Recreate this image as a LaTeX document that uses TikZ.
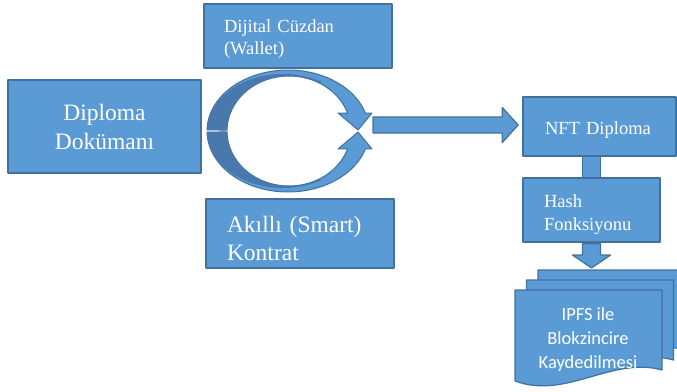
\documentclass[tikz,border=0pt]{standalone}
\usepackage{fontspec}
\setmainfont{Liberation Serif}
\newfontfamily\calibrifont{Carlito}
\usetikzlibrary{calc}
\definecolor{boxfill}{HTML}{5B9BD5}
\definecolor{boxline}{HTML}{41719C}
\definecolor{ringdark}{HTML}{4878AC}
\newcommand\vpad[1]{\rule{0pt}{#1}}
\begin{document}
\begin{tikzpicture}[x=1pt,y=-1pt,line join=round]
	\tikzset{box/.style={draw=boxline,fill=boxfill,line width=1.5pt,text=white,inner ysep=0pt},
		blockarrow/.style={draw=boxline,fill=boxfill,line width=1.2pt},
		docpage/.style={draw=boxline,fill=boxfill,line width=1.2pt}}
	\useasboundingbox (0,0) rectangle (677,391);
	% kutular
	\node[box,minimum width=193pt,minimum height=93pt,align=center,font=\fontsize{23.5}{29}\selectfont] (diploma) at (104.5,126.5) {Diploma\\Dokümanı};
	\node[box,minimum height=64pt,text width=148pt,inner xsep=20pt,align=left,font=\fontsize{18.5}{22}\selectfont] (wallet) at (298,36) {\vpad{19pt}Dijital Cüzdan\\(Wallet)};
	\node[box,minimum height=69pt,text width=146pt,inner xsep=21pt,align=left,font=\fontsize{23.5}{28}\selectfont] (smart) at (300,233.5) {\vpad{26pt}Akıllı (Smart)\\Kontrat};
	\node[box,minimum height=59pt,text width=109pt,inner xsep=22pt,align=left,font=\fontsize{18.5}{22}\selectfont] (nft) at (599.5,126.5) {\vpad{19pt}NFT Diploma};
	\node[box,minimum height=64pt,text width=95pt,inner xsep=21pt,align=left,font=\fontsize{18.5}{23}\selectfont] (hash) at (591.5,210) {\vpad{21pt}Hash\\Fonksiyonu};
	% dairesel oklar
	\coordinate (ring) at (288,131);
	\foreach \s in {1,-1}{
		\filldraw[blockarrow,line width=1pt] plot[domain=181:343,samples=50] ({288+81*cos(\x)},{131+\s*61*sin(\x)})
			-- (372,{131-18*\s}) -- (358,{131-\s}) -- (338,{131-18*\s})
			-- plot[domain=341:181,samples=50] ({289+62*cos(\x)},{131+\s*55*sin(\x)}) -- cycle;
		\fill[ringdark] plot[domain=181:300,samples=40] ({283+76*cos(\x)},{131+\s*57*sin(\x)})
			-- plot[domain=300:181,samples=40] ({289+62*cos(\x)},{131+\s*55*sin(\x)}) -- cycle;
	}
	% belgeler
	\foreach \d in {2,1,0}
		\filldraw[docpage,shift={({11.5*\d},{-10*\d})}] (515,290) -- (662,290) -- (662,370)
			.. controls (612,356) and (566,400) .. (515,381) -- cycle;
	\node[text=white,align=center,inner sep=0pt,font=\calibrifont\fontsize{18.5}{24}\selectfont] (ipfs) at (588,340) {IPFS ile\\Blokzincire\\Kaydedilmesi};
	\coordinate (docs) at (591.5,270);
	% oklar
	\coordinate (tail) at (373,125);
	\draw[blockarrow] let \p1=(tail), \p2=(nft.west) in
		(\x1,\y1+8pt) -- (\x2-20pt,\y1+8pt) -- (\x2-20pt,\y1+17.5pt) -- (\x2-4pt,\y1)
		-- (\x2-20pt,\y1-17.5pt) -- (\x2-20pt,\y1-8pt) -- (\x1,\y1-8pt) -- cycle;
	\draw[blockarrow] let \p1=(hash.north), \p2=(nft.south) in
		(\x1-9pt,\y2) rectangle (\x1+9pt,\y1);
	\draw[blockarrow] let \p1=(hash.south), \p2=(docs) in
		(\x1-9pt,\y1-1pt) -- (\x1-9pt,\y2+15pt) -- (\x1-19pt,\y2+15pt) -- (\x1,\y2+2pt)
		-- (\x1+19pt,\y2+15pt) -- (\x1+9pt,\y2+15pt) -- (\x1+9pt,\y1-1pt) -- cycle;
\end{tikzpicture}
\end{document}
